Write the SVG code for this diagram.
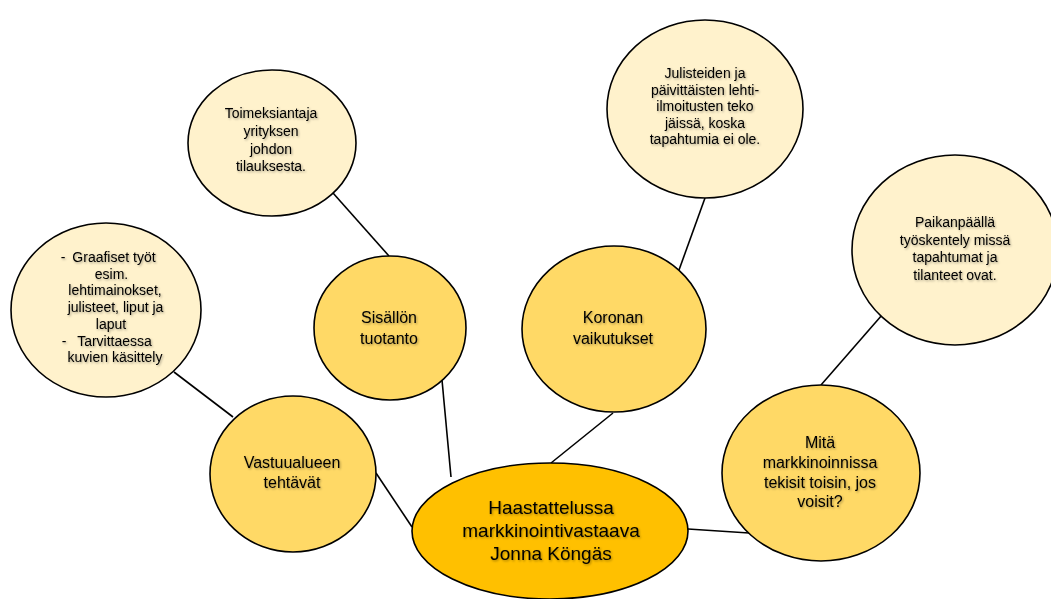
<svg xmlns="http://www.w3.org/2000/svg" width="1051" height="599" viewBox="0 0 1051 599">
<style>
.c{stroke:#000;stroke-width:1.6;fill:none}
.n{stroke:#000;stroke-width:1.6}
.core{fill:#FFC000}
.mid{fill:#FFD966}
.out{fill:#FFF2CC}
text{font-family:"Liberation Sans",Arial,sans-serif;fill:#000;text-anchor:middle;filter:url(#sh)}
.f14{font-size:14px}
.f16{font-size:16px}
.f19{font-size:19px}
</style>
<defs>
<filter id="sh" x="-10%" y="-30%" width="120%" height="160%">
<feDropShadow dx="1" dy="1.2" stdDeviation="0.9" flood-color="#000" flood-opacity="0.35"/>
</filter>
</defs>
<rect width="1051" height="599" fill="#fff"/>
<g id="connectors">
<line class="c" x1="174" y1="372" x2="233" y2="417"/>
<line class="c" x1="376" y1="473" x2="412" y2="527"/>
<line class="c" x1="333" y1="193" x2="389" y2="256"/>
<line class="c" x1="442" y1="380" x2="451" y2="477"/>
<line class="c" x1="705" y1="198" x2="679" y2="270"/>
<line class="c" x1="613" y1="413" x2="551" y2="463"/>
<line class="c" x1="882" y1="315" x2="821" y2="385"/>
<line class="c" x1="688" y1="529" x2="749" y2="533"/>
</g>
<g id="n-graafiset">
<ellipse class="n out" cx="106" cy="310" rx="95" ry="87"/>
<text class="f14"><tspan x="63" y="262">-</tspan><tspan x="114" y="262">Graafiset työt</tspan><tspan x="111.5" y="278.7">esim.</tspan><tspan x="115" y="295.4">lehtimainokset,</tspan><tspan x="115.5" y="312">julisteet, liput ja</tspan><tspan x="111" y="328.8">laput</tspan><tspan x="64" y="345.5">-</tspan><tspan x="114.5" y="345.5">Tarvittaessa</tspan><tspan x="115" y="362.2">kuvien käsittely</tspan></text>
</g>
<g id="n-toimeksiantaja">
<ellipse class="n out" cx="272" cy="143" rx="84" ry="73"/>
<text class="f14"><tspan x="271" y="118">Toimeksiantaja</tspan><tspan x="271" y="136">yrityksen</tspan><tspan x="271" y="154">johdon</tspan><tspan x="271" y="171">tilauksesta.</tspan></text>
</g>
<g id="n-julisteiden">
<ellipse class="n out" cx="705" cy="109" rx="98" ry="89"/>
<text class="f14"><tspan x="705" y="78">Julisteiden ja</tspan><tspan x="705" y="95">päivittäisten lehti-</tspan><tspan x="705" y="111">ilmoitusten teko</tspan><tspan x="705" y="128">jäissä, koska</tspan><tspan x="705" y="144">tapahtumia ei ole.</tspan></text>
</g>
<g id="n-paikanpaalla">
<ellipse class="n out" cx="955" cy="250" rx="103" ry="95"/>
<text class="f14"><tspan x="955" y="227">Paikanpäällä</tspan><tspan x="955" y="245">työskentely missä</tspan><tspan x="955" y="262">tapahtumat ja</tspan><tspan x="955" y="280">tilanteet ovat.</tspan></text>
</g>
<g id="n-vastuualueen">
<ellipse class="n mid" cx="293" cy="474" rx="83" ry="78"/>
<text class="f16"><tspan x="292" y="468">Vastuualueen</tspan><tspan x="292" y="488">tehtävät</tspan></text>
</g>
<g id="n-sisallon">
<ellipse class="n mid" cx="390" cy="328" rx="76" ry="72"/>
<text class="f16"><tspan x="389" y="323">Sisällön</tspan><tspan x="389" y="344">tuotanto</tspan></text>
</g>
<g id="n-koronan">
<ellipse class="n mid" cx="614" cy="329" rx="92" ry="83"/>
<text class="f16"><tspan x="613" y="323">Koronan</tspan><tspan x="613" y="344">vaikutukset</tspan></text>
</g>
<g id="n-mita">
<ellipse class="n mid" cx="821" cy="473" rx="99" ry="88"/>
<text class="f16"><tspan x="820" y="448">Mitä</tspan><tspan x="820" y="468">markkinoinnissa</tspan><tspan x="820" y="488">tekisit toisin, jos</tspan><tspan x="820" y="507">voisit?</tspan></text>
</g>
<g id="n-core">
<ellipse class="n core" cx="550" cy="531" rx="138" ry="68"/>
<text class="f19"><tspan x="551" y="514">Haastattelussa</tspan><tspan x="551" y="537">markkinointivastaava</tspan><tspan x="551" y="560">Jonna Köngäs</tspan></text>
</g>
</svg>
